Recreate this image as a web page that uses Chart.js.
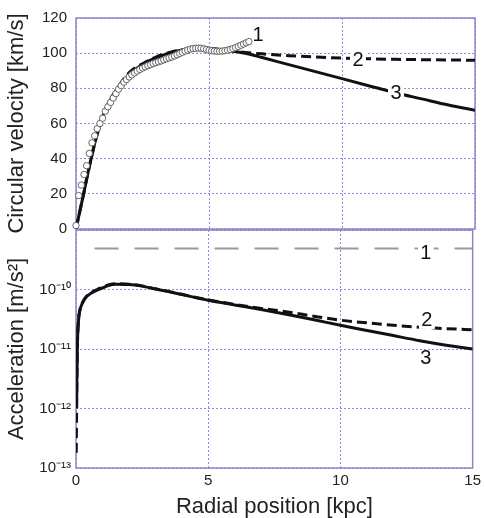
<!DOCTYPE html>
<html>
<head>
<meta charset="utf-8">
<script src="https://cdn.jsdelivr.net/npm/chart.js@4.4.1/dist/chart.umd.min.js"></script>
<style>
  body { margin: 0; background: #fff; }
  #wrap { position: relative; width: 485px; height: 518px; }
  #wrap canvas { position: absolute; left: 0; top: 0; }
</style>
</head>
<body>
<div id="wrap">
  <canvas id="velocityChart" width="485" height="518"></canvas>
  <canvas id="accelChart" width="485" height="518"></canvas>
</div>
<script>
// radial position ticks [kpc], shared by both panels
const xTicks = [0, 5, 10, 15];

// curve 1: observed rotation curve (open circles)
const obsRadius = [0, 0.1, 0.2, 0.3, 0.4, 0.5, 0.6, 0.7, 0.8, 0.9,
  1.0, 1.1, 1.2, 1.3, 1.4, 1.5, 1.6, 1.7, 1.8, 1.9,
  2.0, 2.1, 2.2, 2.3, 2.4, 2.5, 2.6, 2.7, 2.8, 2.9,
  3.0, 3.1, 3.2, 3.3, 3.4, 3.5, 3.6, 3.7, 3.8, 3.9,
  4.0, 4.1, 4.2, 4.3, 4.4, 4.5, 4.6, 4.7, 4.8, 4.9,
  5.0, 5.1, 5.2, 5.3, 5.4, 5.5, 5.6, 5.7, 5.8, 5.9,
  6.0, 6.1, 6.2, 6.3, 6.4, 6.5];
const obsVelocity = [2, 19, 25, 31, 36, 43, 49, 53, 57, 60,
  63, 67, 69.5, 72, 74.5, 77, 79.5, 81.5, 83.5, 85,
  86.5, 87.7, 88.8, 89.8, 90.7, 91.5, 92.2, 92.9, 93.5, 94.1,
  94.6, 95.1, 95.6, 96.2, 96.8, 97.3, 97.8, 98.4, 99.1, 99.8,
  100.5, 101.2, 101.8, 102.3, 102.6, 102.8, 102.9, 102.8, 102.5, 102.1,
  101.7, 101.4, 101.2, 101.1, 101.1, 101.2, 101.4, 101.7, 102.1, 102.6,
  103.2, 103.8, 104.5, 105.2, 105.9, 106.6];

// curves 2 (dashed) and 3 (solid), circular velocity [km/s]
const modelRadius = [0, 0.1, 0.2, 0.3, 0.4, 0.5, 0.6, 0.7, 0.8, 0.9, 1.0,
  1.2, 1.4, 1.6, 1.8, 2.0, 2.2, 2.5, 2.8, 3.0, 3.5, 4.0, 4.5, 5.0, 5.5,
  6.0, 6.5, 7, 8, 9, 10, 11, 12, 13, 14, 15];
const velocity2 = [0, 7, 14, 21, 28.5, 35.5, 42, 48.5, 54.5, 60, 64.5,
  71, 76.5, 81, 85.5, 89, 91.5, 94, 96.5, 97.8, 100.3, 102, 102.6, 102.4, 101.8,
  101, 100.2, 99.6, 98.6, 97.8, 97.2, 96.8, 96.5, 96.3, 96.1, 96];
const velocity3 = [0, 7, 14, 21, 28.5, 35.5, 42, 48.5, 54, 59.5, 64,
  70.5, 76, 80.5, 84.5, 88, 90.5, 93.5, 96, 97.3, 100, 101.8, 102.6, 102.6, 102,
  101, 99.5, 97.5, 93.5, 89.5, 85.5, 81.5, 77.5, 74, 70.5, 67.5];
const velocityTicks = [0, 20, 40, 60, 80, 100, 120];

// acceleration [m/s^2]
const accel1Radius = [0.7, 15];
const accel1 = [4.9e-10, 4.9e-10];
const accRadius2 = [0.01, 0.03, 0.05, 0.1, 0.15, 0.25, 0.4, 0.6, 0.8, 1.0, 1.25,
  1.5, 2, 2.5, 3, 3.5, 4, 5, 6, 7, 8, 9, 10, 11, 12, 13, 14, 15];
const accel2 = [1.8e-13, 2e-12, 1.0e-11, 3.2e-11, 4.6e-11, 6.1e-11, 7.7e-11, 9.0e-11,
  1.0e-10, 1.09e-10, 1.2e-10, 1.25e-10, 1.23e-10, 1.15e-10, 1.03e-10, 9.3e-11, 8.3e-11,
  6.7e-11, 5.6e-11, 4.8e-11, 4.2e-11, 3.55e-11, 3.05e-11, 2.75e-11, 2.5e-11, 2.33e-11,
  2.2e-11, 2.1e-11];
const accRadius3 = [0.02, 0.05, 0.1, 0.15, 0.25, 0.4, 0.6, 0.8, 1.0, 1.25, 1.5,
  2, 2.5, 3, 3.5, 4, 5, 6, 7, 8, 9, 10, 11, 12, 13, 14, 15];
const accel3 = [1.0e-12, 1.0e-11, 3.2e-11, 4.5e-11, 6.0e-11, 7.6e-11, 8.8e-11, 9.8e-11,
  1.06e-10, 1.18e-10, 1.22e-10, 1.21e-10, 1.14e-10, 1.02e-10, 9.2e-11, 8.2e-11,
  6.6e-11, 5.5e-11, 4.6e-11, 3.8e-11, 3.1e-11, 2.5e-11, 2.05e-11, 1.68e-11, 1.38e-11,
  1.16e-11, 1.0e-11];
const accelTicks = [1e-13, 1e-12, 1e-11, 1e-10, 1e-9];
const accelTickLabels = ['10⁻¹³', '10⁻¹²', '10⁻¹¹', '10⁻¹⁰', ''];

// curve numbers written on the plot (data coordinates)
const velocityTags = [
  { text: '1', x: 6.84, y: 110.8, box: false },
  { text: '2', x: 10.6, y: 96.4, box: true },
  { text: '3', x: 12.03, y: 77.9, box: true }
];
const accelTags = [
  { text: '1', x: 13.23, y: 4.27e-10, box: true },
  { text: '2', x: 13.27, y: 3.08e-11, box: true },
  { text: '3', x: 13.23, y: 7.2e-12, box: false }
];

Chart.defaults.font.family = '"Liberation Sans", Arial, Helvetica, sans-serif';
Chart.defaults.color = '#222';

const gridColor = 'rgba(110, 100, 200, 0.75)';
const pts = (xs, ys) => xs.map((x, i) => ({ x: x, y: ys[i] }));

// light purple box around each panel
const frame = {
  id: 'frame',
  beforeDatasetsDraw(chart) {
    const { ctx, chartArea: a } = chart;
    ctx.save();
    ctx.strokeStyle = '#8d86c9';
    ctx.lineWidth = 1.5;
    ctx.strokeRect(a.left, a.top, a.right - a.left, a.bottom - a.top);
    ctx.restore();
  }
};

const tags = {
  id: 'tags',
  afterDatasetsDraw(chart, args, opts) {
    const { ctx, scales } = chart;
    ctx.save();
    ctx.font = '20px "Liberation Sans", Arial, sans-serif';
    ctx.textAlign = 'center';
    ctx.textBaseline = 'middle';
    opts.items.forEach(t => {
      const px = scales.x.getPixelForValue(t.x);
      const py = scales.y.getPixelForValue(t.y);
      if (t.box) {
        ctx.fillStyle = '#fff';
        ctx.fillRect(px - 8, py - 9, 16, 18);
      }
      ctx.fillStyle = '#111';
      ctx.fillText(t.text, px, py + 1);
    });
    ctx.restore();
  }
};

function xScale(bottom) {
  return {
    type: 'linear',
    min: 0,
    max: 15,
    afterBuildTicks: s => { s.ticks = xTicks.map(v => ({ value: v })); },
    afterFit: s => { s.height = bottom ? 50 : 289; },
    grid: { color: gridColor, lineWidth: 1, drawTicks: false },
    border: { display: false, dash: [2, 2] },
    ticks: { display: bottom, padding: 4, font: { size: 15 } },
    title: {
      display: bottom,
      text: 'Radial position [kpc]',
      font: { size: 22, lineHeight: 1 },
      padding: { top: 0, bottom: 0 },
      color: '#222'
    }
  };
}

new Chart(document.getElementById('velocityChart'), {
  type: 'line',
  data: {
    datasets: [
      {
        data: pts(obsRadius, obsVelocity),
        showLine: false,
        pointRadius: 3.2,
        pointBackgroundColor: '#fff',
        pointBorderColor: '#555',
        pointBorderWidth: 0.9,
        clip: false
      },
      {
        data: pts(modelRadius, velocity3),
        borderColor: '#111',
        borderWidth: 3,
        pointRadius: 0,
        cubicInterpolationMode: 'monotone'
      },
      {
        data: pts(modelRadius, velocity2),
        borderColor: '#111',
        borderWidth: 3,
        borderDash: [10, 5],
        pointRadius: 0,
        cubicInterpolationMode: 'monotone'
      }
    ]
  },
  options: {
    responsive: false,
    animation: false,
    layout: { padding: { top: 8, right: 10, left: 0, bottom: 0 } },
    plugins: { legend: { display: false }, tooltip: { enabled: false }, tags: { items: velocityTags } },
    scales: {
      x: xScale(false),
      y: {
        type: 'linear',
        min: 0,
        max: 120,
        afterBuildTicks: s => { s.ticks = velocityTicks.map(v => ({ value: v })); },
        afterFit: s => { s.width = 76; },
        grid: { color: gridColor, lineWidth: 1, drawTicks: false },
        border: { display: false, dash: [2, 2] },
        ticks: { padding: 9, font: { size: 15 } },
        title: {
          display: true,
          text: 'Circular velocity [km/s]',
          font: { size: 22, lineHeight: 1 },
          padding: { top: 6, bottom: 0 },
          color: '#222'
        }
      }
    }
  },
  plugins: [frame, tags]
});

new Chart(document.getElementById('accelChart'), {
  type: 'line',
  data: {
    datasets: [
      {
        data: pts(accel1Radius, accel1),
        borderColor: '#9a9a9a',
        borderWidth: 2,
        borderDash: [24, 16],
        pointRadius: 0
      },
      {
        data: pts(accRadius3, accel3),
        borderColor: '#111',
        borderWidth: 3,
        pointRadius: 0,
        cubicInterpolationMode: 'monotone'
      },
      {
        data: pts(accRadius2, accel2),
        borderColor: '#111',
        borderWidth: 3,
        borderDash: [10, 5],
        pointRadius: 0,
        cubicInterpolationMode: 'monotone'
      }
    ]
  },
  options: {
    responsive: false,
    animation: false,
    layout: { padding: { top: 230, right: 10, left: 0, bottom: 0 } },
    plugins: { legend: { display: false }, tooltip: { enabled: false }, tags: { items: accelTags } },
    scales: {
      x: xScale(true),
      y: {
        type: 'logarithmic',
        min: 1e-13,
        max: 1e-9,
        afterBuildTicks: s => { s.ticks = accelTicks.map(v => ({ value: v })); },
        afterFit: s => { s.width = 76; },
        grid: { color: gridColor, lineWidth: 1, drawTicks: false },
        border: { display: false, dash: [2, 2] },
        ticks: {
          padding: 5,
          font: { size: 15 },
          callback: (v, i) => accelTickLabels[i]
        },
        title: {
          display: true,
          text: 'Acceleration [m/s²]',
          font: { size: 22, lineHeight: 1 },
          padding: { top: 6, bottom: 0 },
          color: '#222'
        }
      }
    }
  },
  plugins: [frame, tags]
});
</script>
</body>
</html>
